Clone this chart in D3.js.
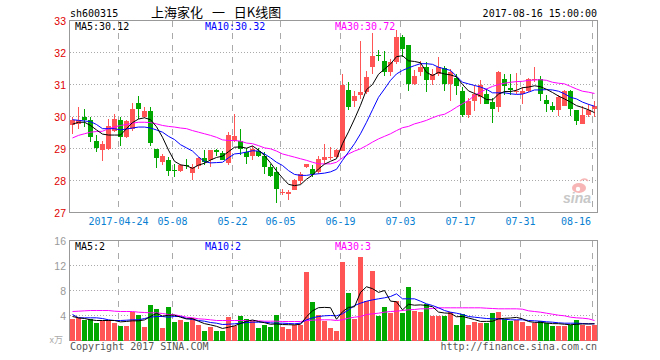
<!DOCTYPE html>
<html><head><meta charset="utf-8">
<script src="https://cdn.jsdelivr.net/npm/d3@7/dist/d3.min.js"></script>
<style>body{margin:0;background:#fff}svg{display:block}</style>
</head><body><svg id="c" width="660" height="360"></svg>
<script>
// ---------- DATA ----------
const dates = ["04-12","04-13","04-14","04-17","04-18","04-19","04-20","04-21",
"04-24","04-25","04-26","04-27","04-28","05-02","05-03","05-04","05-05",
"05-08","05-09","05-10","05-11","05-12","05-15","05-16","05-17","05-18","05-19",
"05-22","05-23","05-24","05-25","05-26","05-31","06-01","06-02",
"06-05","06-06","06-07","06-08","06-09","06-12","06-13","06-14","06-15","06-16",
"06-19","06-20","06-21","06-22","06-23","06-26","06-27","06-28","06-29","06-30",
"07-03","07-04","07-05","07-06","07-07","07-10","07-11","07-12","07-13","07-14",
"07-17","07-18","07-19","07-20","07-21","07-24","07-25","07-26","07-27","07-28",
"07-31","08-01","08-02","08-03","08-04","08-07","08-08","08-09","08-10","08-11",
"08-14","08-15","08-16"];
const open = [29.75,29.77,29.98,29.90,29.25,28.94,28.99,29.56,29.88,29.35,29.61,30.42,30.00,30.17,28.99,28.59,28.63,28.33,28.29,28.49,28.23,28.44,28.71,28.63,28.96,28.85,28.54,29.25,29.25,28.89,28.78,28.92,28.78,28.42,28.26,27.60,27.58,27.71,28.00,28.42,28.36,28.26,28.63,28.71,28.73,28.92,30.84,30.50,30.66,30.76,31.54,31.93,31.75,31.39,31.70,32.48,32.22,31.02,31.39,31.54,31.13,31.33,31.52,31.02,31.21,30.81,30.06,30.48,30.60,30.71,30.45,30.31,31.18,30.90,30.76,30.69,30.81,31.15,31.18,30.52,30.34,30.19,30.34,30.81,30.19,29.77,30.06,30.24];
const high = [29.98,30.31,30.24,30.00,29.41,29.25,29.93,30.08,29.98,29.88,30.42,30.63,30.29,30.29,28.99,28.83,28.73,28.52,28.52,28.68,28.52,28.73,28.96,28.96,28.99,28.92,29.51,30.08,29.60,29.02,29.09,29.02,28.89,28.52,28.42,27.74,27.69,28.05,28.26,28.52,28.47,28.78,29.15,29.06,29.00,31.33,31.07,30.81,32.35,31.42,32.60,32.08,32.06,31.80,32.69,32.56,32.25,31.44,31.75,31.70,31.49,31.85,31.59,31.49,31.33,30.92,30.58,30.97,31.13,30.86,30.58,31.42,31.33,31.33,31.36,30.92,31.21,31.56,31.28,30.66,30.45,30.66,30.83,30.83,30.19,30.34,30.39,30.50];
const low = [29.46,29.60,29.67,29.20,28.89,28.60,28.94,29.51,29.07,29.33,29.56,29.93,29.96,29.09,28.40,28.50,28.13,28.10,28.26,28.36,28.02,28.36,28.47,28.42,28.78,28.63,28.50,29.20,28.81,28.52,28.63,28.72,28.21,28.10,27.29,27.56,27.38,27.69,27.90,28.40,28.10,28.19,28.52,28.65,28.71,28.92,30.19,30.29,30.55,30.71,31.33,31.75,31.28,31.28,31.65,31.85,30.81,30.97,31.28,30.76,30.97,31.28,30.81,30.48,30.66,29.98,29.96,30.17,30.40,30.40,29.79,30.14,30.66,30.66,30.71,30.40,30.76,31.07,30.48,30.14,30.14,30.03,30.34,30.03,29.72,29.77,30.00,30.00];
const close = [29.88,29.88,29.90,29.35,29.01,29.15,29.69,29.93,29.35,29.85,30.24,30.24,30.17,29.17,28.70,28.78,28.31,28.30,28.47,28.44,28.42,28.71,28.57,28.94,28.89,28.63,29.41,29.38,28.99,28.73,29.00,28.78,28.42,28.13,27.74,27.63,27.63,28.02,28.21,28.52,28.19,28.68,28.73,28.75,28.94,30.97,30.31,30.63,30.76,31.23,31.88,31.88,31.39,31.70,32.48,32.11,31.02,31.28,31.56,31.13,31.33,31.54,31.02,31.39,30.94,30.06,30.50,30.71,30.99,30.40,30.24,31.39,30.94,30.83,30.81,30.81,31.18,31.18,30.71,30.40,30.19,30.60,30.81,30.22,29.85,30.06,30.21,30.34];
const ma5 = [29.76,29.82,29.82,29.72,29.58,29.45,29.42,29.42,29.42,29.62,29.81,29.92,29.96,29.90,29.68,29.35,28.95,28.60,28.49,28.46,28.38,28.48,28.54,28.64,28.72,28.76,28.90,29.04,29.05,29.01,29.08,28.95,28.78,28.55,28.30,28.08,27.88,27.84,27.87,28.04,28.17,28.36,28.51,28.60,28.68,29.15,29.52,29.92,30.35,30.84,31.00,31.32,31.48,31.64,31.87,31.90,31.74,31.72,31.68,31.38,31.28,31.38,31.33,31.30,31.24,31.00,30.80,30.72,30.64,30.53,30.52,30.70,30.78,30.78,30.82,30.90,30.92,30.96,30.93,30.85,30.75,30.64,30.55,30.45,30.34,30.28,30.21,30.12];
const ma10 = [29.90,29.88,29.86,29.84,29.75,29.62,29.62,29.62,29.58,29.61,29.64,29.67,29.67,29.64,29.58,29.51,29.38,29.28,29.12,29.02,28.92,28.74,28.59,28.55,28.56,28.57,28.71,28.83,28.85,28.89,28.93,28.92,28.83,28.71,28.57,28.47,28.31,28.19,28.16,28.16,28.19,28.21,28.23,28.27,28.35,28.63,28.89,29.15,29.46,29.82,30.21,30.60,30.86,31.13,31.33,31.44,31.52,31.59,31.65,31.65,31.63,31.54,31.49,31.44,31.26,31.07,31.02,30.97,30.92,30.85,30.74,30.74,30.74,30.71,30.69,30.70,30.76,30.83,30.83,30.84,30.83,30.79,30.71,30.60,30.55,30.45,30.38,30.32];
const ma30 = [29.33,29.41,29.46,29.51,29.53,29.54,29.62,29.67,29.72,29.75,29.79,29.82,29.82,29.81,29.77,29.72,29.69,29.67,29.64,29.62,29.56,29.51,29.46,29.41,29.35,29.27,29.25,29.25,29.23,29.17,29.15,29.09,29.02,28.99,28.92,28.83,28.78,28.73,28.68,28.63,28.57,28.52,28.52,28.52,28.57,28.71,28.83,28.92,28.99,29.09,29.20,29.30,29.38,29.46,29.56,29.65,29.69,29.77,29.82,29.88,29.96,30.03,30.07,30.17,30.29,30.40,30.50,30.66,30.76,30.86,30.94,31.00,31.04,31.07,31.09,31.10,31.13,31.14,31.15,31.13,31.07,31.04,31.02,30.94,30.86,30.79,30.76,30.72];
const volume = [3.41,3.63,3.31,3.47,2.77,3.2,3.31,2.88,2.4,2.4,4.53,4.16,2.13,5.76,5.01,1.97,5.44,2.93,3.31,2.93,3.63,2.56,1.6,2.24,1.49,1.6,3.84,2.4,4.0,3.47,3.09,1.97,2.56,2.13,4.16,2.13,1.81,2.56,2.56,10.93,6.13,4.16,3.09,2.03,1.49,12.64,7.68,3.47,13.33,6.29,11.2,4.0,5.33,4.37,6.4,4.37,8.53,4.69,4.53,5.87,3.89,3.89,3.89,4.53,2.56,4.27,2.56,2.93,2.77,2.77,4.37,4.53,3.47,3.09,3.31,2.93,2.4,2.77,3.09,2.77,2.4,2.4,2.4,2.56,3.31,2.56,2.4,2.56];
const volMa5 = [3.84,3.63,3.52,3.31,3.2,3.2,3.2,3.2,2.98,3.05,3.15,3.15,3.3,3.85,4.35,3.9,4.05,4.05,3.73,3.45,3.5,3.08,2.7,2.5,2.27,1.93,2.12,2.35,2.72,3.07,3.28,3.04,2.85,2.6,2.65,2.55,2.53,2.5,2.6,3.8,4.75,5.25,5.3,5.25,3.4,4.6,5.3,5.4,7.7,8.6,8.3,7.7,8.0,6.3,6.2,4.9,5.8,5.65,5.7,5.6,5.4,4.55,4.4,4.35,3.8,3.85,3.6,3.35,3.05,3.06,3.08,3.47,3.55,3.6,3.7,3.47,3.04,2.9,2.9,2.8,2.7,2.69,2.6,2.52,2.6,2.65,2.65,2.68];
const volMa10 = [4.16,3.63,3.63,3.63,3.63,3.52,3.31,3.2,3.2,3.25,3.31,3.31,3.52,3.73,3.84,3.84,3.73,3.84,3.84,3.52,3.36,3.2,3.09,2.88,2.77,2.56,2.61,2.67,2.77,2.88,2.93,2.93,2.93,2.83,2.77,2.77,2.72,2.67,2.77,3.31,3.63,3.84,3.95,4.0,3.95,4.27,4.9,5.6,5.97,6.29,6.5,6.67,6.83,7.04,7.47,6.67,6.67,6.67,6.29,5.87,5.6,5.23,4.8,4.53,4.37,4.16,3.84,3.73,3.63,3.52,3.47,3.47,3.41,3.31,3.31,3.31,3.2,3.15,3.09,2.99,2.93,2.83,2.77,2.77,2.77,2.72,2.67,2.67];
const volMa30 = [4.64,4.69,4.75,4.8,4.8,4.8,4.8,4.69,4.64,4.64,4.64,4.53,4.48,4.43,4.43,4.32,4.16,4.11,3.95,3.73,3.63,3.47,3.41,3.31,3.2,3.2,3.2,3.2,3.2,3.2,3.2,3.15,3.09,3.09,3.09,3.04,3.04,3.04,3.04,3.2,3.25,3.31,3.31,3.31,3.2,3.31,3.57,3.73,3.84,4.16,4.27,4.37,4.53,4.64,4.69,4.8,4.91,4.96,5.07,5.07,5.12,5.23,5.23,5.23,5.23,5.23,5.23,5.23,5.23,5.17,5.12,5.07,5.07,5.07,5.07,5.01,4.75,4.64,4.53,4.37,4.21,4.05,3.95,3.73,3.63,3.57,3.47,3.2];
const priceTicks = [27,28,29,30,31,32,33];
const volTicks = [4,8,12,16];
const xTickDates = ["04-24","05-08","05-22","06-05","06-19","07-03","07-17","07-31","08-16"];
const xTickLabels = ["2017-04-24","05-08","05-22","06-05","06-19","07-03","07-17","07-31","08-16"];
const code = "sh600315";
const title = "上海家化 一 日K线图";
const stamp = "2017-08-16 15:00:00";
const maLabels = ["MA5:30.12","MA10:30.32","MA30:30.72"];
const volMaLabels = ["MA5:2","MA10:2","MA30:3"];

// ---------- DRAW ----------
const svg = d3.select("#c");
const L = 70, R = 598;
const mono = "'DejaVu Sans Mono', monospace";
const UP = "#ff5555", DOWN = "#00a800";
const x = d3.scaleBand().domain(dates).range([L, R]).paddingInner(0).paddingOuter(0);
const y = d3.scaleLinear().domain([27, 33]).range([212.5, 20.5]);
const yv = d3.scaleLinear().domain([0, 16]).range([340.5, 240.5]);
const idx = d3.range(dates.length);
const cx = i => x(dates[i]) + 2.5;
const col = i => close[i] >= open[i] ? UP : DOWN;

svg.append("rect").attr("width",660).attr("height",360).attr("fill","#fff");

function grid(g, ys, top, bot) {
  g.selectAll("line.h").data(ys).join("line")
    .attr("x1", L).attr("x2", R).attr("y1", d => d).attr("y2", d => d)
    .attr("stroke", "#aaa").attr("stroke-dasharray", "1,2").attr("shape-rendering","crispEdges");
  g.selectAll("line.v").data(xTickDates).join("line").attr("class","v")
    .attr("x1", d => x(d) + 0.5).attr("x2", d => x(d) + 0.5).attr("y1", top).attr("y2", bot)
    .attr("stroke", "#aaa").attr("stroke-dasharray", "6,6").attr("shape-rendering","crispEdges");
}
const gMain = svg.append("g");
grid(gMain, priceTicks.slice(1, -1).map(y), 21, 212);
const gVol = svg.append("g");
grid(gVol, volTicks.slice(0, -1).map(yv), 241, 340);

// watermark
const wm = svg.append("g");
wm.append("ellipse").attr("cx", 579).attr("cy", 188).attr("rx", 7).attr("ry", 5).attr("fill", "#f7b5b5");
wm.append("circle").attr("cx", 578).attr("cy", 189).attr("r", 2.2).attr("fill", "#fff");
wm.append("path").attr("d","M580,181 q5,-4 8,0").attr("fill","none").attr("stroke","#f7b5b5").attr("stroke-width",1.5);
wm.append("text").attr("x", 563).attr("y", 203).text("sina")
  .attr("font-family","'Liberation Sans', Arial, sans-serif").attr("font-size", 14).attr("font-weight","bold")
  .attr("font-style","italic").attr("fill","#c8c8c8");

// borders
[[20.5, 212.5],[240.5, 340.5]].forEach(([t,b]) => {
  svg.append("rect").attr("x", L - 0.5).attr("y", t).attr("width", R - L).attr("height", b - t)
    .attr("fill","none").attr("stroke","#999").attr("shape-rendering","crispEdges");
});

// candles
const gc = svg.append("g").attr("shape-rendering","crispEdges");
gc.selectAll("line").data(idx).join("line")
  .attr("x1", cx).attr("x2", cx).attr("y1", i => y(high[i])).attr("y2", i => y(low[i]))
  .attr("stroke", col);
gc.selectAll("rect").data(idx).join("rect")
  .attr("x", i => x(dates[i])).attr("width", 5)
  .attr("y", i => y(Math.max(open[i], close[i])))
  .attr("height", i => Math.max(1, Math.abs(y(open[i]) - y(close[i]))))
  .attr("fill", col);

// volume bars
svg.append("g").attr("shape-rendering","crispEdges").selectAll("rect").data(idx).join("rect")
  .attr("x", i => x(dates[i])).attr("width", 5)
  .attr("y", i => yv(volume[i])).attr("height", i => yv(0) - yv(volume[i]))
  .attr("fill", col);

// MA lines
function maLine(arr, sc, color) {
  svg.append("path").datum(idx)
    .attr("d", d3.line().x(cx).y(i => sc(arr[i])))
    .attr("fill","none").attr("stroke", color).attr("stroke-width", 1);
}
maLine(ma30, y, "#ff00ff"); maLine(ma10, y, "#0000ff"); maLine(ma5, y, "#000");
maLine(volMa30, yv, "#ff00ff"); maLine(volMa10, yv, "#0000ff"); maLine(volMa5, yv, "#000");

// texts
function txt(s, tx, ty, opt) {
  const t = svg.append("text").attr("x", tx).attr("y", ty).text(s)
    .attr("font-family", opt.ff || mono).attr("font-size", opt.fs || 10)
    .attr("fill", opt.fill || "#000").attr("text-anchor", opt.anchor || "start");
  return t;
}
txt(code, 70, 16.5, {});
txt(title, 151, 16.5, {ff: "'Noto Sans CJK SC', sans-serif", fs: 13}).style("word-spacing", "6px").style("white-space", "pre");
txt(stamp, 597, 16.5, {anchor: "end"});
const maX = [75, 205, 335], maCol = ["#000", "#0000ff", "#ff00ff"];
maLabels.forEach((s, k) => txt(s, maX[k], 30, {fill: maCol[k]}));
volMaLabels.forEach((s, k) => txt(s, maX[k], 249.5, {fill: maCol[k]}));

priceTicks.forEach(p => txt(String(p), 66, y(p) + 4, {ff: "'Liberation Sans', Arial, sans-serif", fs: 10.5, fill: "#e00000", anchor: "end"}));
volTicks.forEach(v => txt(String(v), 66, yv(v) + 4, {ff: "'Liberation Sans', Arial, sans-serif", fs: 10.5, fill: "#999", anchor: "end"}));
txt("x万", 63, 343, {ff: "'Noto Sans CJK SC', sans-serif", fs: 9, fill: "#aaa", anchor: "end"});

xTickDates.forEach((d, k) => {
  const last = k === xTickDates.length - 1;
  txt(xTickLabels[k], last ? 591 : x(d) + 0.5, 225, {fill: "#0a7fd2", anchor: last ? "end" : "middle"});
});
txt("Copyright 2017 SINA.COM", 70, 349.5, {fill: "#555"});
txt("http://finance.sina.com.cn", 597, 349.5, {fill: "#555", anchor: "end"});
</script>
</body></html>
